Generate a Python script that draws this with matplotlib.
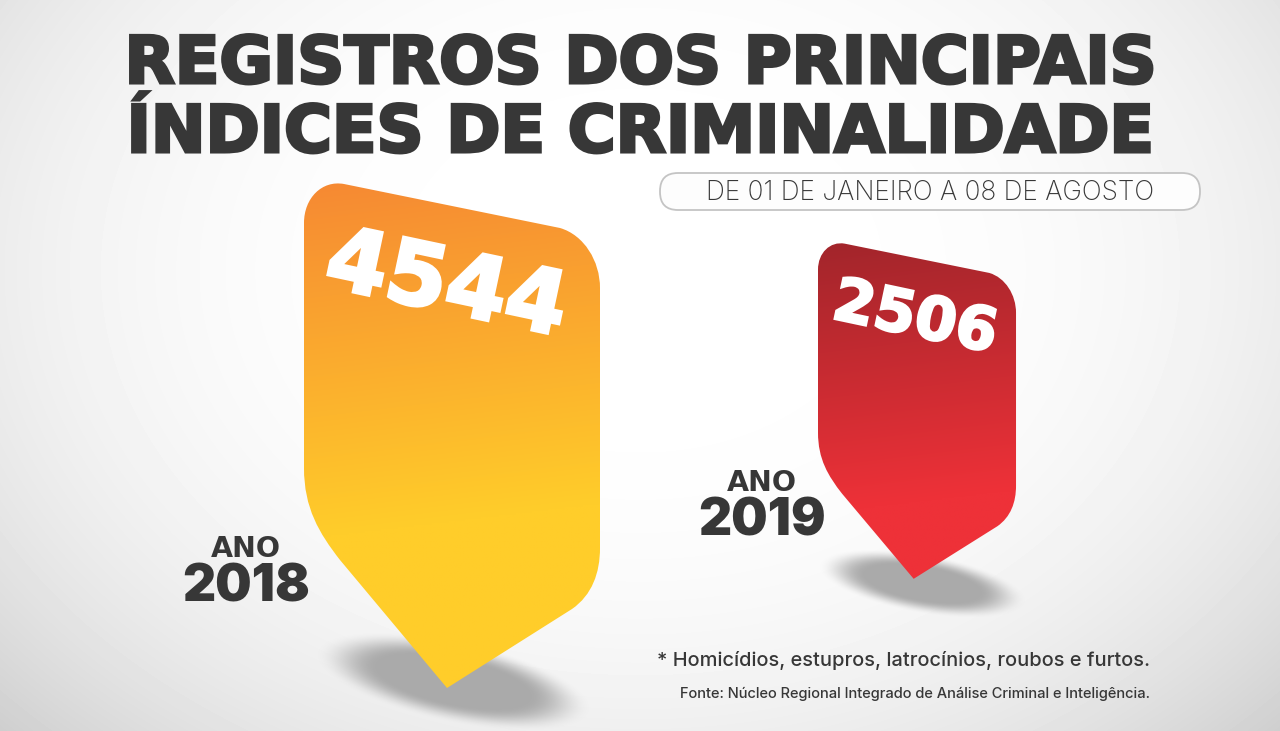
import numpy as np
import matplotlib
matplotlib.use("Agg")
import matplotlib.pyplot as plt
import matplotlib.patheffects as pe
from matplotlib.colors import to_rgb
from matplotlib.path import Path
from matplotlib.patches import PathPatch, FancyBboxPatch
from matplotlib.transforms import Affine2D

title_lines = ["REGISTROS DOS PRINCIPAIS", "ÍNDICES DE CRIMINALIDADE"]
subtitle = "DE 01 DE JANEIRO A 08 DE AGOSTO"
years = ["2018", "2019"]
values = [4544, 2506]
note = "* Homicídios, estupros, latrocínios, roubos e furtos."
source = "Fonte: Núcleo Regional Integrado de Análise Criminal e Inteligência."

W, H = 1280, 731
fig = plt.figure(figsize=(W / 100, H / 100), dpi=100)
ax = fig.add_axes([0, 0, 1, 1])
ax.set_xlim(0, W)
ax.set_ylim(H, 0)
ax.axis("off")
DARK = "#373737"
FONT = "Inter"
WIDE = "DejaVu Sans"


def heavy(color, lw):
    return [pe.withStroke(linewidth=lw, foreground=color, joinstyle="miter", capstyle="butt")]


# background
yy, xx = np.mgrid[0:H, 0:W]
d = np.sqrt(((xx - 640) / 800) ** 2 + ((yy - 270) / 600) ** 2)
bg = np.clip(1.0 - 0.14 * d ** 3, 0, 1)
ax.imshow(bg, extent=(0, W, H, 0), cmap="gray", vmin=0, vmax=1, aspect="auto", zorder=0)


def shadow(cx, cy, rx, ry, tilt, a):
    t = np.deg2rad(tilt)
    dx, dy = xx - cx, yy - cy
    u = dx * np.cos(t) + dy * np.sin(t)
    v = -dx * np.sin(t) + dy * np.cos(t)
    r = np.sqrt((u / rx) ** 2 + (v / ry) ** 2)
    s = np.clip((1.1 - r) / 0.5, 0, 1)
    alpha = a * s * s * (3 - 2 * s)
    img = np.zeros((H, W, 4))
    img[..., :3] = 0.67
    img[..., 3] = alpha
    ax.imshow(img, extent=(0, W, H, 0), aspect="auto", zorder=1)


shadow(453, 681, 128, 37, 12, 1.0)
shadow(922, 583, 96, 27, 10, 1.0)

# bar shape (template in the 2018 bar's own frame)
verts = [(0, 40), (0, 15), (18, -3), (40, 1),
         (256, 45), (280, 52), (296, 78), (296, 105),
         (296, 365), (296, 390), (288, 412), (268, 426),
         (143, 505), (36, 377), (15, 350), (0, 325), (0, 285), (0, 40)]
codes = [Path.MOVETO, Path.CURVE4, Path.CURVE4, Path.CURVE4,
         Path.LINETO, Path.CURVE4, Path.CURVE4, Path.CURVE4,
         Path.LINETO, Path.CURVE4, Path.CURVE4, Path.CURVE4,
         Path.LINETO, Path.LINETO, Path.CURVE4, Path.CURVE4, Path.CURVE4, Path.CLOSEPOLY]
template = Path(verts, codes)


def grad(top, bottom, hold, w, h):
    gy, gx = np.mgrid[0:1:256j, 0:1:128j]
    t = np.clip((gy + 0.12 * gx * w / h) / hold, 0, 1)[..., None]
    return np.array(to_rgb(top)) + (np.array(to_rgb(bottom)) - np.array(to_rgb(top))) * t


bars = [
    dict(x=304, y=183, s=(1.0, 1.0), top="#F68833", bottom="#FFCD2A", hold=0.70),
    dict(x=818, y=243, s=(0.669, 0.665), top="#A1252B", bottom="#EE3138", hold=0.80),
]
for b in bars:
    sx, sy = b["s"]
    tr = Affine2D().scale(sx, sy).translate(b["x"], b["y"]) + ax.transData
    patch = PathPatch(template, transform=tr, fc="none", ec="none", zorder=2)
    ax.add_patch(patch)
    im = ax.imshow(grad(b["top"], b["bottom"], b["hold"], 296 * sx, 515 * sy),
                   extent=(b["x"], b["x"] + 296 * sx, b["y"] + 510 * sy, b["y"] - 5 * sy),
                   aspect="auto", zorder=2, interpolation="bilinear")
    im.set_clip_path(patch)
ax.set_xlim(0, W)
ax.set_ylim(H, 0)

# title
for line, base in zip(title_lines, (83, 152)):
    ax.text(640, base, line, ha="center", va="baseline", color=DARK, fontsize=47,
            family=WIDE, weight="bold", path_effects=heavy(DARK, 2.2))

# subtitle pill
ax.add_patch(FancyBboxPatch((678, 173), 504, 37, boxstyle="round,pad=0,rounding_size=18",
                            fc="#FDFDFD", ec="#C4C4C4", lw=1.3, zorder=3))
ax.patches[-1].set_bounds(660, 173, 540, 37)
ax.text(930, 200, subtitle, ha="center", va="baseline", color=DARK, fontsize=18.9,
        family=FONT, weight="light", zorder=4)

# values on bars
ax.text(446, 287, str(values[0]), ha="center", va="center", color="white", fontsize=63,
        family=WIDE, weight="bold", rotation=-12, rotation_mode="anchor", zorder=5,
        path_effects=heavy("white", 2.5))
ax.text(915, 319, str(values[1]), ha="center", va="center", color="white", fontsize=43,
        family=WIDE, weight="bold", rotation=-12, rotation_mode="anchor", zorder=5,
        path_effects=heavy("white", 1.8))

# year labels
ax.text(246, 557, "ANO", ha="center", va="baseline", color=DARK, fontsize=20.5, family=WIDE, weight="bold")
ax.text(246, 601, years[0], ha="center", va="baseline", color=DARK, fontsize=37, family=FONT, weight="black")
ax.text(762, 491, "ANO", ha="center", va="baseline", color=DARK, fontsize=20.5, family=WIDE, weight="bold")
ax.text(762, 535, years[1], ha="center", va="baseline", color=DARK, fontsize=37, family=FONT, weight="black")

# notes
ax.text(1150, 666, note, ha="right", va="baseline", color=DARK, fontsize=14.4, family=FONT, weight="medium")
ax.text(1150, 698, source, ha="right", va="baseline", color=DARK, fontsize=10.55, family=FONT, weight="medium")

fig.savefig("out.png", dpi=100)
